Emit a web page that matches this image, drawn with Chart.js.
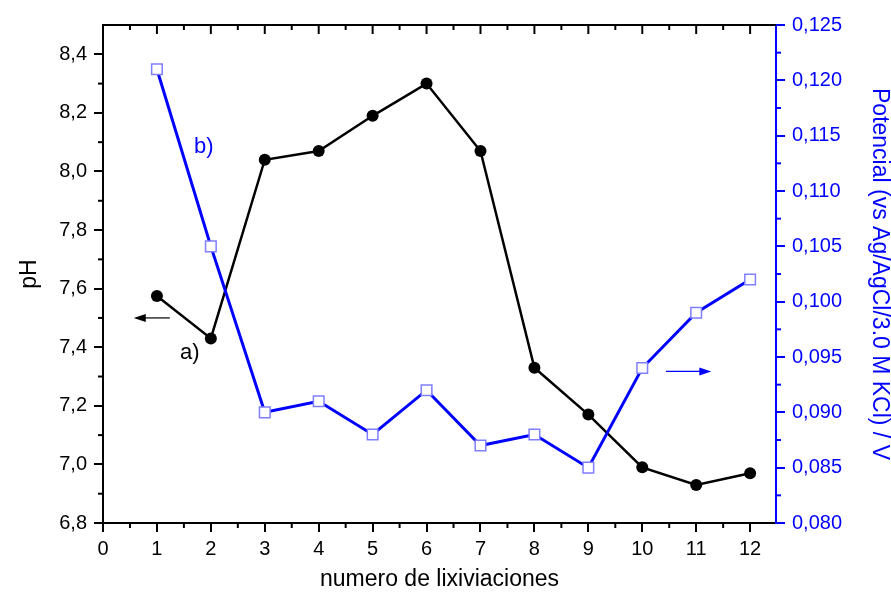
<!DOCTYPE html>
<html>
<head>
<meta charset="utf-8">
<script src="https://cdn.jsdelivr.net/npm/chart.js@4/dist/chart.umd.min.js"></script>
<style>
  html, body { margin: 0; padding: 0; background: #fff; }
  #wrap { width: 891px; height: 602px; }
</style>
</head>
<body>
<div id="wrap"><canvas id="chart" width="891" height="602"></canvas></div>
<script>
// leaching number (x) and the two measured series
const LEACH_NUMBER = [1, 2, 3, 4, 5, 6, 7, 8, 9, 10, 11, 12];
const PH_VALUES = [7.575, 7.43, 8.04, 8.07, 8.19, 8.30, 8.07, 7.33, 7.17, 6.99, 6.93, 6.97];
const POTENTIAL_VALUES = [0.121, 0.105, 0.090, 0.091, 0.088, 0.092, 0.087, 0.088, 0.085, 0.094, 0.099, 0.102];

// axis ranges
const X_RANGE = [0, 12.48];
const PH_RANGE = [6.8, 8.5];
const POT_RANGE = [0.080, 0.125];

// annotation texts and arrows, in data units
const NOTE_TEXT = ["a)", "b)"];
const NOTE_X = [1.61, 1.87];
const NOTE_Y = [7.38, 8.085];
const NOTE_AXIS = ["y", "y"];
const NOTE_COLOR = ["#000000", "#0000ff"];

const ARROW_FROM_X = [1.24, 10.44];
const ARROW_TO_X = [0.57, 11.28];
const ARROW_Y = [7.50, 0.0937];
const ARROW_AXIS = ["y", "y1"];
const ARROW_COLOR = ["#000000", "#0000ff"];

const BLUE = "#0000ff";
const FONT = "'Liberation Sans', Arial, sans-serif";

function comma(v, digits) {
  return Number(v).toFixed(digits).replace(".", ",");
}

function midpoints(ticks) {
  const out = [];
  for (let i = 0; i < ticks.length - 1; i++) {
    out.push((ticks[i].value + ticks[i + 1].value) / 2);
  }
  return out;
}

// frame: top border, ticks on top, and the minor ticks on every side
const frameTicks = {
  id: "frameTicks",
  afterDraw(chart) {
    const { ctx, chartArea: a, scales } = chart;
    const line = (x1, y1, x2, y2) => {
      ctx.beginPath(); ctx.moveTo(x1, y1); ctx.lineTo(x2, y2); ctx.stroke();
    };
    ctx.save();
    ctx.lineWidth = 2;
    ctx.strokeStyle = "#000";
    line(a.left, a.top, a.right, a.top);

    scales.x.ticks.forEach(t => {
      const px = scales.x.getPixelForValue(t.value);
      line(px, a.top, px, a.top + 9);
    });
    midpoints(scales.x.ticks).forEach(v => {
      const px = scales.x.getPixelForValue(v);
      line(px, a.bottom, px, a.bottom + 5);
      line(px, a.top, px, a.top + 5);
    });
    midpoints(scales.y.ticks).forEach(v => {
      const py = scales.y.getPixelForValue(v);
      line(a.left - 5, py, a.left, py);
    });
    ctx.strokeStyle = BLUE;
    midpoints(scales.y1.ticks).forEach(v => {
      const py = scales.y1.getPixelForValue(v);
      line(a.right, py, a.right + 5, py);
    });
    ctx.restore();
  }
};

// "a)", "b)" labels and the two pointing arrows
const notes = {
  id: "notes",
  afterDatasetsDraw(chart) {
    const { ctx, scales } = chart;
    ctx.save();
    ctx.font = "22px " + FONT;
    ctx.textAlign = "center";
    ctx.textBaseline = "middle";
    NOTE_TEXT.forEach((txt, i) => {
      ctx.fillStyle = NOTE_COLOR[i];
      ctx.fillText(txt, scales.x.getPixelForValue(NOTE_X[i]), scales[NOTE_AXIS[i]].getPixelForValue(NOTE_Y[i]));
    });
    ARROW_FROM_X.forEach((fx, i) => {
      const x1 = scales.x.getPixelForValue(fx);
      const x2 = scales.x.getPixelForValue(ARROW_TO_X[i]);
      const py = scales[ARROW_AXIS[i]].getPixelForValue(ARROW_Y[i]);
      const dir = Math.sign(x2 - x1);
      ctx.strokeStyle = ARROW_COLOR[i];
      ctx.fillStyle = ARROW_COLOR[i];
      ctx.lineWidth = 1.2;
      ctx.beginPath(); ctx.moveTo(x1, py); ctx.lineTo(x2 - dir * 10, py); ctx.stroke();
      ctx.beginPath();
      ctx.moveTo(x2, py);
      ctx.lineTo(x2 - dir * 12, py - 4);
      ctx.lineTo(x2 - dir * 12, py + 4);
      ctx.closePath();
      ctx.fill();
    });
    ctx.restore();
  }
};

const ctx = document.getElementById("chart").getContext("2d");
new Chart(ctx, {
  type: "line",
  data: {
    datasets: [
      {
        label: "Potencial",
        data: LEACH_NUMBER.map((x, i) => ({ x, y: POTENTIAL_VALUES[i] })),
        yAxisID: "y1",
        order: 0,
        borderColor: BLUE,
        borderWidth: 3,
        pointStyle: "rect",
        pointRadius: 7.5,
        pointBorderWidth: 1.5,
        pointBorderColor: "#7f7fff",
        pointBackgroundColor: "#ffffff",
        tension: 0
      },
      {
        label: "pH",
        data: LEACH_NUMBER.map((x, i) => ({ x, y: PH_VALUES[i] })),
        yAxisID: "y",
        order: 1,
        borderColor: "#000000",
        borderWidth: 2.5,
        pointStyle: "circle",
        pointRadius: 6,
        pointBorderWidth: 0,
        pointBackgroundColor: "#000000",
        tension: 0
      }
    ]
  },
  options: {
    responsive: false,
    animation: false,
    events: [],
    layout: { padding: { top: 25, left: 0, right: 0, bottom: 0 } },
    plugins: { legend: { display: false }, tooltip: { enabled: false } },
    scales: {
      x: {
        type: "linear",
        min: X_RANGE[0],
        max: X_RANGE[1],
        afterFit: s => { s.height = 79; },
        border: { color: "#000", width: 2 },
        grid: { drawOnChartArea: false, tickLength: 9, lineWidth: 2, color: "#000" },
        ticks: {
          stepSize: 1,
          includeBounds: false,
          padding: 5,
          color: "#000",
          font: { family: FONT, size: 20 },
          callback: v => String(v)
        },
        title: {
          display: true,
          text: "numero de lixiviaciones",
          color: "#000",
          font: { family: FONT, size: 23 },
          padding: { top: 0, bottom: 9 }
        }
      },
      y: {
        position: "left",
        min: PH_RANGE[0],
        max: PH_RANGE[1],
        afterFit: s => { s.width = 103; },
        border: { color: "#000", width: 2 },
        grid: { drawOnChartArea: false, tickLength: 9, lineWidth: 2, color: "#000" },
        ticks: {
          stepSize: 0.2,
          includeBounds: false,
          padding: 7,
          color: "#000",
          font: { family: FONT, size: 20 },
          callback: v => comma(v, 1)
        },
        title: {
          display: true,
          text: "pH",
          color: "#000",
          font: { family: FONT, size: 23 },
          padding: { top: 16, bottom: 0 }
        }
      },
      y1: {
        position: "right",
        min: POT_RANGE[0],
        max: POT_RANGE[1],
        afterFit: s => { s.width = 115; },
        border: { color: BLUE, width: 2 },
        grid: { drawOnChartArea: false, tickLength: 9, lineWidth: 2, color: BLUE },
        ticks: {
          stepSize: 0.005,
          includeBounds: false,
          padding: 7,
          color: BLUE,
          font: { family: FONT, size: 20 },
          callback: v => comma(v, 3)
        },
        title: {
          display: true,
          text: "Potencial (vs Ag/AgCl/3.0 M KCl) / V",
          color: BLUE,
          font: { family: FONT, size: 23, lineHeight: 1 },
          padding: { top: 0, bottom: 0 }
        }
      }
    }
  },
  plugins: [frameTicks, notes]
});
</script>
</body>
</html>
